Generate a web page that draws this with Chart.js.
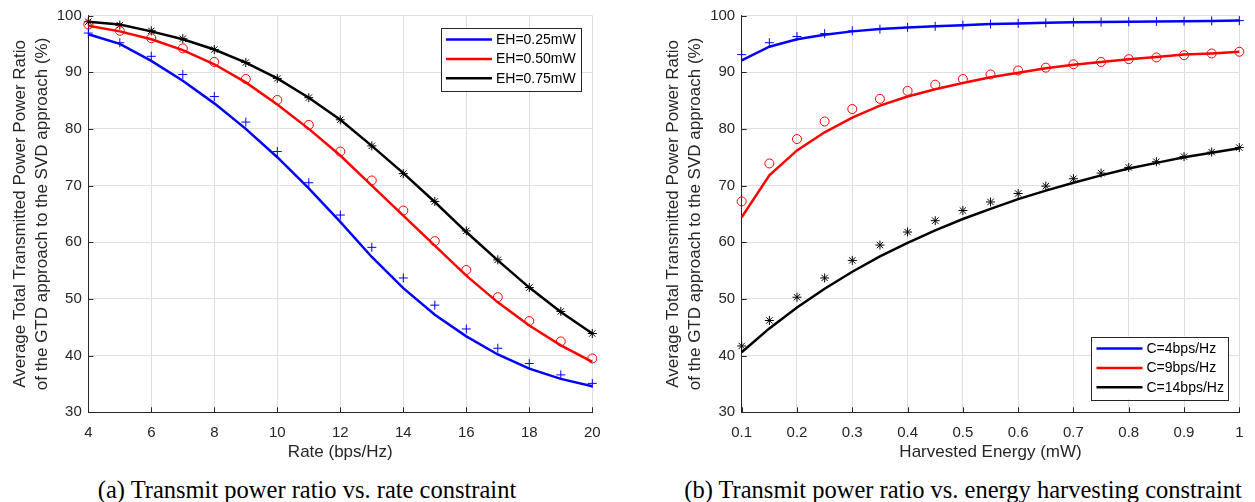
<!DOCTYPE html>
<html>
<head>
<meta charset="utf-8">
<script src="https://cdn.jsdelivr.net/npm/chart.js@4.4.0/dist/chart.umd.min.js"></script>
<style>
  body { margin: 0; background: #fff; width: 1255px; height: 502px; overflow: hidden; position: relative; }
  canvas { position: absolute; top: 0; }
  #chartA { left: 0; }
  #chartB { left: 640px; }
  .caption { position: absolute; top: 476px; width: 600px; text-align: center;
             font-family: 'Liberation Serif', 'Times New Roman', serif; font-size: 24.5px; line-height: 28px; color: #000; }
</style>
</head>
<body>
<canvas id="chartA" width="620" height="470"></canvas>
<canvas id="chartB" width="615" height="470"></canvas>
<div class="caption" style="left:7px">(a) Transmit power ratio vs. rate constraint</div>
<div class="caption" style="left:663px">(b) Transmit power ratio vs. energy harvesting constraint</div>
<script>
// ---- data, left plot (rate constraint)
const rates = [4, 5, 6, 7, 8, 9, 10, 11, 12, 13, 14, 15, 16, 17, 18, 19, 20];
const eh025Line = [96.7, 95.0, 92.0, 88.5, 84.5, 80.0, 75.0, 69.5, 63.6, 57.4, 51.9, 47.2, 43.4, 40.2, 37.7, 35.9, 34.6];
const eh025Mark = [96.9, 95.2, 92.8, 89.6, 85.7, 81.2, 76.0, 70.5, 64.8, 59.1, 53.7, 48.9, 44.7, 41.3, 38.6, 36.6, 35.1];
const eh050Line = [98.2, 97.2, 95.8, 93.9, 91.4, 88.2, 84.3, 80.0, 75.3, 70.0, 64.7, 59.4, 54.1, 49.4, 45.3, 41.8, 38.9];
const eh050Mark = [98.4, 97.3, 96.0, 94.2, 91.8, 88.8, 85.1, 80.7, 76.0, 70.9, 65.6, 60.2, 55.1, 50.3, 46.1, 42.5, 39.5];
const eh075Line = [98.9, 98.4, 97.2, 95.8, 94.0, 91.7, 88.9, 85.5, 81.6, 77.0, 72.2, 67.1, 61.8, 56.8, 52.0, 47.7, 43.9];
const eh075Mark = [98.9, 98.3, 97.3, 95.9, 94.0, 91.7, 88.9, 85.5, 81.6, 77.0, 72.1, 67.2, 62.0, 56.9, 52.0, 47.8, 43.9];
const xTicksA = [4, 6, 8, 10, 12, 14, 16, 18, 20];

// ---- data, right plot (energy harvesting constraint)
const energy = [0.1, 0.15, 0.2, 0.25, 0.3, 0.35, 0.4, 0.45, 0.5, 0.55, 0.6, 0.65, 0.7, 0.75, 0.8, 0.85, 0.9, 0.95, 1.0];
const c4Line = [92.1, 94.5, 95.8, 96.6, 97.2, 97.6, 97.9, 98.1, 98.3, 98.5, 98.6, 98.7, 98.8, 98.85, 98.9, 98.95, 99.0, 99.05, 99.1];
const c4Mark = [93.1, 95.2, 96.3, 96.8, 97.3, 97.6, 97.9, 98.1, 98.3, 98.5, 98.6, 98.7, 98.8, 98.85, 98.9, 98.95, 99.0, 99.05, 99.1];
const c9Line = [64.4, 71.8, 76.2, 79.4, 82.0, 84.1, 85.7, 87.0, 88.1, 89.1, 89.9, 90.7, 91.3, 91.8, 92.3, 92.7, 93.1, 93.3, 93.6];
const c9Mark = [67.2, 73.9, 78.2, 81.3, 83.5, 85.3, 86.7, 87.8, 88.8, 89.6, 90.3, 90.8, 91.4, 91.8, 92.3, 92.6, 93.0, 93.3, 93.6];
const c14Line = [40.6, 44.8, 48.5, 51.8, 54.8, 57.5, 59.9, 62.1, 64.1, 65.9, 67.6, 69.1, 70.5, 71.8, 73.0, 74.0, 75.0, 75.8, 76.6];
const c14Mark = [41.7, 46.2, 50.3, 53.7, 56.8, 59.5, 61.8, 63.8, 65.6, 67.1, 68.6, 69.9, 71.2, 72.2, 73.2, 74.2, 75.1, 75.9, 76.7];
const xTicksB = [0.1, 0.2, 0.3, 0.4, 0.5, 0.6, 0.7, 0.8, 0.9, 1];
const xTickLabelsB = ['0.1', '0.2', '0.3', '0.4', '0.5', '0.6', '0.7', '0.8', '0.9', '1'];

const yTicks = [30, 40, 50, 60, 70, 80, 90, 100];
const yTitle = ['Average Total Transmitted Power Power Ratio', 'of the GTD approach to the SVD approach (%)'];

const SANS = "'Liberation Sans', Arial, Helvetica, sans-serif";
const AXIS = '#262626';
Chart.defaults.font.family = SANS;
Chart.defaults.color = AXIS;

const pts = (xs, ys) => xs.map((x, i) => ({ x: x, y: ys[i] }));

function lineSet(label, xs, ys, color) {
  return { label: label, data: pts(xs, ys), borderColor: color, backgroundColor: color,
           borderWidth: 2.5, pointRadius: 0, tension: 0, inLegend: true, clip: false };
}
function markSet(xs, ys, color, style) {
  return { data: pts(xs, ys), showLine: false, pointStyle: style, pointRadius: 4.5, pointHoverRadius: 4.5,
           pointBorderWidth: 1, pointBorderColor: color, pointBackgroundColor: 'rgba(0,0,0,0)', clip: false };
}

// MATLAB-like inward ticks on bottom/left axes
const innerTicks = {
  id: 'innerTicks',
  beforeDatasetsDraw(chart) {
    const { ctx, chartArea: a, scales: { x, y } } = chart;
    ctx.save();
    ctx.strokeStyle = AXIS;
    ctx.lineWidth = 1;
    ctx.beginPath();
    x.ticks.forEach(t => {
      const px = Math.round(x.getPixelForValue(t.value)) + 0.5;
      ctx.moveTo(px, a.bottom); ctx.lineTo(px, a.bottom - 5);
    });
    y.ticks.forEach(t => {
      const py = Math.round(y.getPixelForValue(t.value)) + 0.5;
      ctx.moveTo(a.left, py); ctx.lineTo(a.left + 5, py);
    });
    ctx.stroke();
    ctx.restore();
  }
};

// boxed legend inside the axes
const boxLegend = {
  id: 'boxLegend',
  afterDraw(chart, args, opts) {
    const { ctx, chartArea: a } = chart;
    const items = chart.data.datasets.filter(d => d.inLegend);
    ctx.save();
    ctx.font = '14px ' + SANS;
    const textW = Math.max(...items.map(d => ctx.measureText(d.label).width));
    const w = 5 + 46 + 4 + textW + 5;
    const h = 24 + (items.length - 1) * 19.4;
    const left = a.right - opts.right - w;
    const top = opts.top != null ? a.top + opts.top : a.bottom - opts.bottom - h;
    ctx.fillStyle = '#fff';
    ctx.fillRect(left, top, w, h);
    ctx.strokeStyle = AXIS;
    ctx.lineWidth = 1;
    ctx.strokeRect(Math.round(left) + 0.5, Math.round(top) + 0.5, Math.round(w), Math.round(h));
    items.forEach((d, i) => {
      const yy = top + 12 + i * 19.4;
      ctx.strokeStyle = d.borderColor;
      ctx.lineWidth = 2.5;
      ctx.beginPath();
      ctx.moveTo(left + 5, yy); ctx.lineTo(left + 51, yy);
      ctx.stroke();
      ctx.fillStyle = '#000';
      ctx.textBaseline = 'middle';
      ctx.textAlign = 'left';
      ctx.fillText(d.label, left + 55, yy + 0.5);
    });
    ctx.restore();
  }
};

function makeChart(id, datasets, xOpts, yTitlePad, padRight, legendPos) {
  return new Chart(document.getElementById(id), {
    type: 'line',
    data: { datasets: datasets },
    options: {
      responsive: false,
      animation: false,
      events: [],
      layout: { padding: { top: 14.7, right: padRight, left: 0, bottom: 0 } },
      plugins: { legend: { display: false }, tooltip: { enabled: false }, boxLegend: legendPos },
      scales: {
        x: Object.assign({
          type: 'linear',
          grid: { color: '#dfdfdf', drawTicks: false },
          border: { color: AXIS, width: 1 },
          ticks: { font: { size: 15 }, padding: 11.5, maxRotation: 0, autoSkip: false },
          afterFit: s => { s.height = 57.7; }
        }, xOpts),
        y: {
          type: 'linear', min: 30, max: 100,
          afterBuildTicks: s => { s.ticks = yTicks.map(v => ({ value: v })); },
          grid: { color: '#dfdfdf', drawTicks: false },
          border: { color: AXIS, width: 1 },
          ticks: { font: { size: 15 }, padding: 6.5 },
          title: { display: true, text: yTitle, font: { size: 17, lineHeight: 1.3 }, padding: { top: yTitlePad, bottom: 0 } },
          afterFit: s => { s.width = id === 'chartA' ? 88.3 : 101.7; }
        }
      }
    },
    plugins: [innerTicks, boxLegend]
  });
}

makeChart('chartA', [
  lineSet('EH=0.25mW', rates, eh025Line, '#0000ff'),
  lineSet('EH=0.50mW', rates, eh050Line, '#ff0000'),
  lineSet('EH=0.75mW', rates, eh075Line, '#000000'),
  markSet(rates, eh025Mark, '#0000ff', 'cross'),
  markSet(rates, eh050Mark, '#ff0000', 'circle'),
  markSet(rates, eh075Mark, '#000000', 'star')
], {
  min: 4, max: 20,
  afterBuildTicks: s => { s.ticks = xTicksA.map(v => ({ value: v })); },
  title: { display: true, text: 'Rate (bps/Hz)', font: { size: 17 }, padding: { top: 0, bottom: 7.5 } }
}, 8.95, 27.7, { top: 12, right: 11.6 });

makeChart('chartB', [
  lineSet('C=4bps/Hz', energy, c4Line, '#0000ff'),
  lineSet('C=9bps/Hz', energy, c9Line, '#ff0000'),
  lineSet('C=14bps/Hz', energy, c14Line, '#000000'),
  markSet(energy, c4Mark, '#0000ff', 'cross'),
  markSet(energy, c9Mark, '#ff0000', 'circle'),
  markSet(energy, c14Mark, '#000000', 'star')
], {
  min: 0.1, max: 1,
  afterBuildTicks: s => { s.ticks = xTicksB.map(v => ({ value: v })); },
  ticks: { font: { size: 15 }, padding: 11.5, maxRotation: 0, autoSkip: false,
           callback: (v, i) => xTickLabelsB[i] },
  title: { display: true, text: 'Harvested Energy (mW)', font: { size: 17 }, padding: { top: 0, bottom: 7.5 } }
}, 22.25, 9.3, { bottom: 13, right: 10.4 });
</script>
</body>
</html>
